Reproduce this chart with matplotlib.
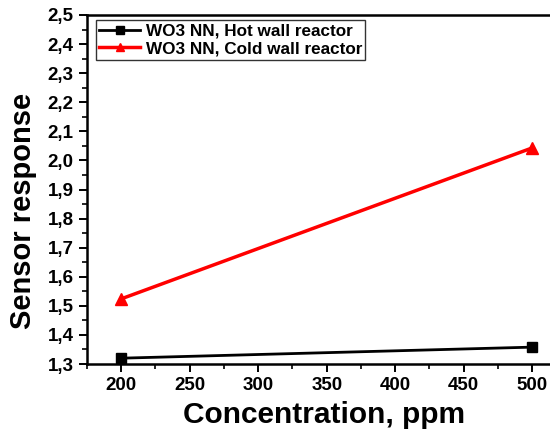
import matplotlib
matplotlib.use("Agg")
import matplotlib.pyplot as plt
from matplotlib.ticker import FuncFormatter, MultipleLocator

concentration = [200, 500]
hot_wall = [1.32, 1.358]
cold_wall = [1.524, 2.043]
label_hot = "WO3 NN, Hot wall reactor"
label_cold = "WO3 NN, Cold wall reactor"

plt.rcParams['font.family'] = ['Liberation Sans', 'DejaVu Sans']
plt.rcParams['font.weight'] = 'bold'

fig = plt.figure(figsize=(5.5, 4.32), dpi=100)
ax_w = 1 - 87/550 + 0.01
ax = fig.add_axes([87/550, 68/432, ax_w, (364-15)/432])

ax.plot(concentration, hot_wall, color='black', lw=2, marker='s', ms=7.5, label=label_hot)
ax.plot(concentration, cold_wall, color='red', lw=2.5, marker='^', ms=9, label=label_cold)

ax.set_xlim(175, 517)
ax.set_ylim(1.3, 2.5)
ax.xaxis.set_major_locator(MultipleLocator(50))
ax.xaxis.set_minor_locator(MultipleLocator(25))
ax.yaxis.set_major_locator(MultipleLocator(0.1))
ax.yaxis.set_minor_locator(MultipleLocator(0.05))
ax.yaxis.set_major_formatter(FuncFormatter(lambda v, p: f"{v:.1f}".replace('.', ',')))

for s in ['left', 'bottom', 'top']:
    ax.spines[s].set_linewidth(1.8)
ax.spines['right'].set_visible(False)
ax.tick_params(axis='both', which='major', direction='out', length=6, width=1.4, labelsize=13.5)
ax.tick_params(axis='both', which='minor', direction='out', length=3.5, width=1.2)
ax.tick_params(top=False, right=False, which='both')
for lab in ax.get_xticklabels() + ax.get_yticklabels():
    lab.set_fontweight('bold')

ax.set_xlabel("Concentration, ppm", fontsize=21.5, fontweight='bold')
ax.set_ylabel("Sensor response", fontsize=21, fontweight='bold')
ax.xaxis.set_label_coords((324-87)/(550*ax_w), -0.105)
ax.yaxis.set_label_coords((37-87)/(550*ax_w), 0.44)

leg = ax.legend(loc='upper left', bbox_to_anchor=(0.012, 0.995), fontsize=12.3, frameon=True,
                fancybox=False, edgecolor='black', borderpad=0.2, handlelength=2.4,
                handletextpad=0.3, labelspacing=0.15, borderaxespad=0.2, markerscale=0.7)
leg.get_frame().set_linewidth(1.0)
for t in leg.get_texts():
    t.set_fontweight('bold')

fig.savefig("out.png", dpi=100)
